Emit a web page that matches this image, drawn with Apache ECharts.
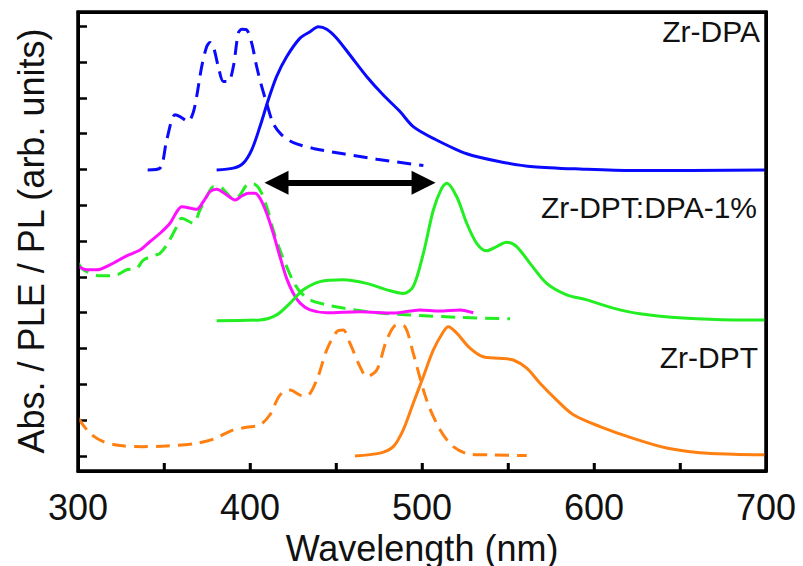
<!DOCTYPE html>
<html><head><meta charset="utf-8">
<script src="https://cdn.jsdelivr.net/npm/echarts@6/dist/echarts.min.js"></script>
<style>html,body{margin:0;padding:0;background:#fff}#c{width:803px;height:566px}</style>
</head><body><div id="c"></div>
<script>
// x: wavelength (nm), y: offset intensity (arb. units, tick spacing = 1)
const xTicks = [300, 400, 500, 600, 700];
const xTickMarks = [350, 400, 450, 500, 550, 600, 650];
const yTicks = [0,1,2,3,4,5,6,7,8,9,10,11,12];
const xRange = [300, 700];
const yRange = [-0.42, 12.4];
const sampleLabels = ['Zr-DPA', 'Zr-DPT:DPA-1%', 'Zr-DPT'];
const xTitle = 'Wavelength (nm)';
const yTitle = 'Abs. / PLE / PL (arb. units)';

const zrDpaPLE = [[340.5,7.99],[347.7,8.04],[351.6,8.83],[356.4,9.53],[359.3,9.48],[364,9.34],[366.9,9.58],[369,10.04],[371.9,10.87],[374.8,11.43],[376.7,11.55],[378.7,11.43],[381.6,10.87],[384.5,10.46],[387.4,10.46],[390.3,10.87],[393.2,11.81],[395.2,11.92],[398.1,11.90],[401,11.53],[403.9,10.87],[406.8,10.32],[409.7,9.85],[413.5,9.29],[418.4,8.97],[425.2,8.75],[436.8,8.59],[454.2,8.44],[473.7,8.29],[500.8,8.11]];
const zrDpaPL = [[380.6,7.99],[390.3,8.04],[396.1,8.18],[401,8.55],[405.8,9.20],[410.6,9.94],[415.5,10.60],[421.3,11.15],[429.1,11.67],[434.9,11.85],[439.7,11.99],[444.6,11.92],[450.4,11.67],[458.1,11.20],[467.8,10.60],[477.5,10.08],[487.2,9.62],[494.9,9.20],[506.6,8.87],[526,8.44],[545.3,8.22],[564.7,8.08],[593.8,8.01],[622.8,7.97],[700,7.99]];
const mixPLE = [[300.2,5.38],[303.1,5.20],[312.8,5.03],[322.5,5.06],[328.3,5.20],[334.1,5.24],[338,5.47],[343.8,5.59],[347.7,5.66],[351.6,5.89],[356.4,6.31],[360.3,6.64],[367,6.50],[370.9,6.87],[374.8,7.24],[378.7,7.52],[382.6,7.51],[386.5,7.34],[390.3,7.17],[394.2,7.29],[398.1,7.57],[401.9,7.60],[405.8,7.43],[409.7,6.96],[413.5,6.31],[417.4,5.75],[421.3,5.29],[425.2,4.87],[429.1,4.59],[434.9,4.36],[444.6,4.22],[454.2,4.13],[473.7,4.00],[493,3.94],[522.1,3.87],[551.2,3.83]];
const mixAbs = [[300.2,5.29],[305.1,5.20],[310.9,5.20],[318.6,5.34],[328.3,5.59],[336,5.75],[341.9,5.99],[347.7,6.22],[353.5,6.50],[357.4,6.82],[360.3,6.96],[369,6.89],[372.8,7.10],[376.7,7.38],[380.6,7.45],[386.5,7.29],[391.3,7.15],[395.2,7.26],[399,7.34],[402.9,7.34],[405.8,7.20],[409.7,6.78],[413.5,6.22],[417.4,5.57],[421.3,4.96],[425.2,4.54],[429.1,4.27],[434.9,4.08],[444.6,4.00],[464,4.03],[483.3,3.99],[498.8,4.08],[510,4.05],[522.1,4.08],[529.8,4.00]];
const mixPL = [[380.6,3.78],[405.8,3.80],[415.5,3.94],[423.3,4.27],[431,4.64],[440.7,4.87],[454.2,4.92],[467.8,4.82],[479.5,4.64],[489.1,4.54],[494.9,4.73],[500.8,5.66],[506.6,6.87],[511.5,7.48],[514.4,7.62],[520.2,7.24],[526,6.50],[531.8,5.94],[537.6,5.73],[543.4,5.85],[549.2,5.97],[555,5.85],[562.8,5.38],[572.5,4.82],[584.1,4.50],[595.8,4.36],[611.2,4.13],[626.7,3.97],[651.9,3.85],[681,3.80],[700,3.80]];
const zrDptPLE = [[300.2,1.05],[307,0.63],[314.7,0.40],[324.4,0.29],[338,0.26],[351.6,0.28],[367,0.34],[378.7,0.47],[390.3,0.73],[398.1,0.80],[405.8,0.87],[411.6,1.15],[417.4,1.70],[423.3,1.84],[429.1,1.70],[433,1.68],[438.8,2.12],[444.6,2.96],[450.4,3.47],[454.2,3.52],[458.1,3.15],[464,2.49],[467.8,2.22],[473.7,2.40],[479.5,3.24],[485.3,3.66],[490.1,3.61],[494.9,2.87],[502.7,1.56],[510.5,0.73],[518.2,0.26],[527.9,0.05],[541.5,0.03],[560.9,0.01]];
const zrDptPL = [[461,0],[475.6,0.08],[483.3,0.26],[489.1,0.73],[494.9,1.47],[500.8,2.22],[506.6,2.96],[512.4,3.47],[515.3,3.61],[520.2,3.43],[527.9,3.01],[535.6,2.77],[545.3,2.73],[553.1,2.68],[560.9,2.45],[568.6,2.03],[578.3,1.56],[588,1.15],[603.5,0.82],[622.8,0.49],[642.2,0.22],[661.6,0.09],[681,0.05],[700,0.03]];
// energy-transfer arrow (wavelength span, height)
const arrowX = [415.4, 500.9];
const arrowY = 7.63;

const FONT = '"Liberation Sans", Arial, sans-serif';
const BLUE = '#0a0aff', GREEN = '#22ee22', MAGENTA = '#ff10ff', ORANGE = '#ff8010';

function line(name, data, color, dashed, extra) {
  return Object.assign({
    name, type: 'line', data, showSymbol: false, smooth: 0.3, silent: true,
    lineStyle: { color, width: 3, type: dashed ? [14, 8] : 'solid' },
    z: 3
  }, extra || {});
}

function frameLine() { return { show: true, onZero: false, lineStyle: { color: '#000', width: 3 } }; }

const titleGraphics = [
  { id: 'xt', type: 'text', x: 422, y: 548, silent: true,
    style: { text: xTitle, font: '36px ' + FONT, fill: '#111', textAlign: 'center', textVerticalAlign: 'middle' } },
  { id: 'yt', type: 'text', x: 31, y: 241, rotation: Math.PI / 2, silent: true,
    style: { text: yTitle, font: '36px ' + FONT, fill: '#111', textAlign: 'center', textVerticalAlign: 'middle' } }
];

const chart = echarts.init(document.getElementById('c'), null, { renderer: 'svg' });
chart.setOption({
  animation: false,
  backgroundColor: '#fff',
  title: [
    { text: sampleLabels[0], right: 43, top: 16 },
    { text: sampleLabels[1], right: 46, top: 192 },
    { text: sampleLabels[2], right: 45, top: 342 }
  ].map(t => Object.assign(t, { padding: 0, textStyle: { fontFamily: FONT, fontSize: 30, fontWeight: 'normal', color: '#111' } })),
  grid: { left: 78, right: 37, top: 12, bottom: 95, show: true, borderColor: '#000', borderWidth: 3, backgroundColor: 'rgba(0,0,0,0)' },
  graphic: titleGraphics,
  xAxis: [{
    type: 'value', min: xRange[0], max: xRange[1], interval: 50, position: 'bottom',
    axisLine: frameLine(),
    axisTick: { show: true, inside: true, length: 8, lineStyle: { color: '#000', width: 2.5 } },
    axisLabel: { fontFamily: FONT, fontSize: 36, color: '#111', margin: 18,
      formatter: v => (xTicks.indexOf(v) >= 0 ? String(v) : '') },
    splitLine: { show: false }
  }, {
    type: 'value', min: xRange[0], max: xRange[1], position: 'top',
    axisLine: frameLine(), axisTick: { show: false }, axisLabel: { show: false }, splitLine: { show: false }
  }],
  yAxis: [{
    type: 'value', min: yRange[0], max: yRange[1], position: 'left',
    axisLine: frameLine(),
    axisTick: { show: true, inside: true, length: 9, lineStyle: { color: '#000', width: 2.5 }, customValues: yTicks },
    axisLabel: { show: false },
    splitLine: { show: false }
  }, {
    type: 'value', min: yRange[0], max: yRange[1], position: 'right',
    axisLine: frameLine(), axisTick: { show: false }, axisLabel: { show: false }, splitLine: { show: false }
  }],
  series: [
    line('Zr-DPA PLE', zrDpaPLE, BLUE, true),
    line('Zr-DPA PL', zrDpaPL, BLUE, false, {
      markLine: {
        silent: true, symbol: ['triangle', 'triangle'], symbolSize: [24, 24],
        label: { show: false },
        lineStyle: { color: '#000', width: 6, type: 'solid' },
        data: [[{ coord: [arrowX[0], arrowY] }, { coord: [arrowX[1], arrowY] }]]
      }
    }),
    line('Zr-DPT:DPA-1% PLE', mixPLE, GREEN, true),
    line('Zr-DPT:DPA-1% Abs', mixAbs, MAGENTA, false),
    line('Zr-DPT:DPA-1% PL', mixPL, GREEN, false),
    line('Zr-DPT PLE', zrDptPLE, ORANGE, true),
    line('Zr-DPT PL', zrDptPL, ORANGE, false)
  ]
});

// Plot frame and bottom ticks, positioned through the chart's own scales
const px = v => chart.convertToPixel({ gridIndex: 0 }, v);
const tl = px([xRange[0], yRange[1]]);
const br = px([xRange[1], yRange[0]]);
const extra = titleGraphics.concat([
  { id: 'frame', type: 'rect', silent: true, z: 50,
    shape: { x: tl[0], y: tl[1], width: br[0] - tl[0], height: br[1] - tl[1] },
    style: { fill: 'none', stroke: '#000', lineWidth: 3 } }
]).concat(xTickMarks.map((v, i) => {
  const p = px([v, yRange[0]]);
  return { id: 'xtick' + i, type: 'line', silent: true, z: 50,
    shape: { x1: p[0], y1: br[1], x2: p[0], y2: br[1] - 8 },
    style: { stroke: '#000', lineWidth: 2.5 } };
}));
chart.setOption({ graphic: extra });
</script>
</body></html>
